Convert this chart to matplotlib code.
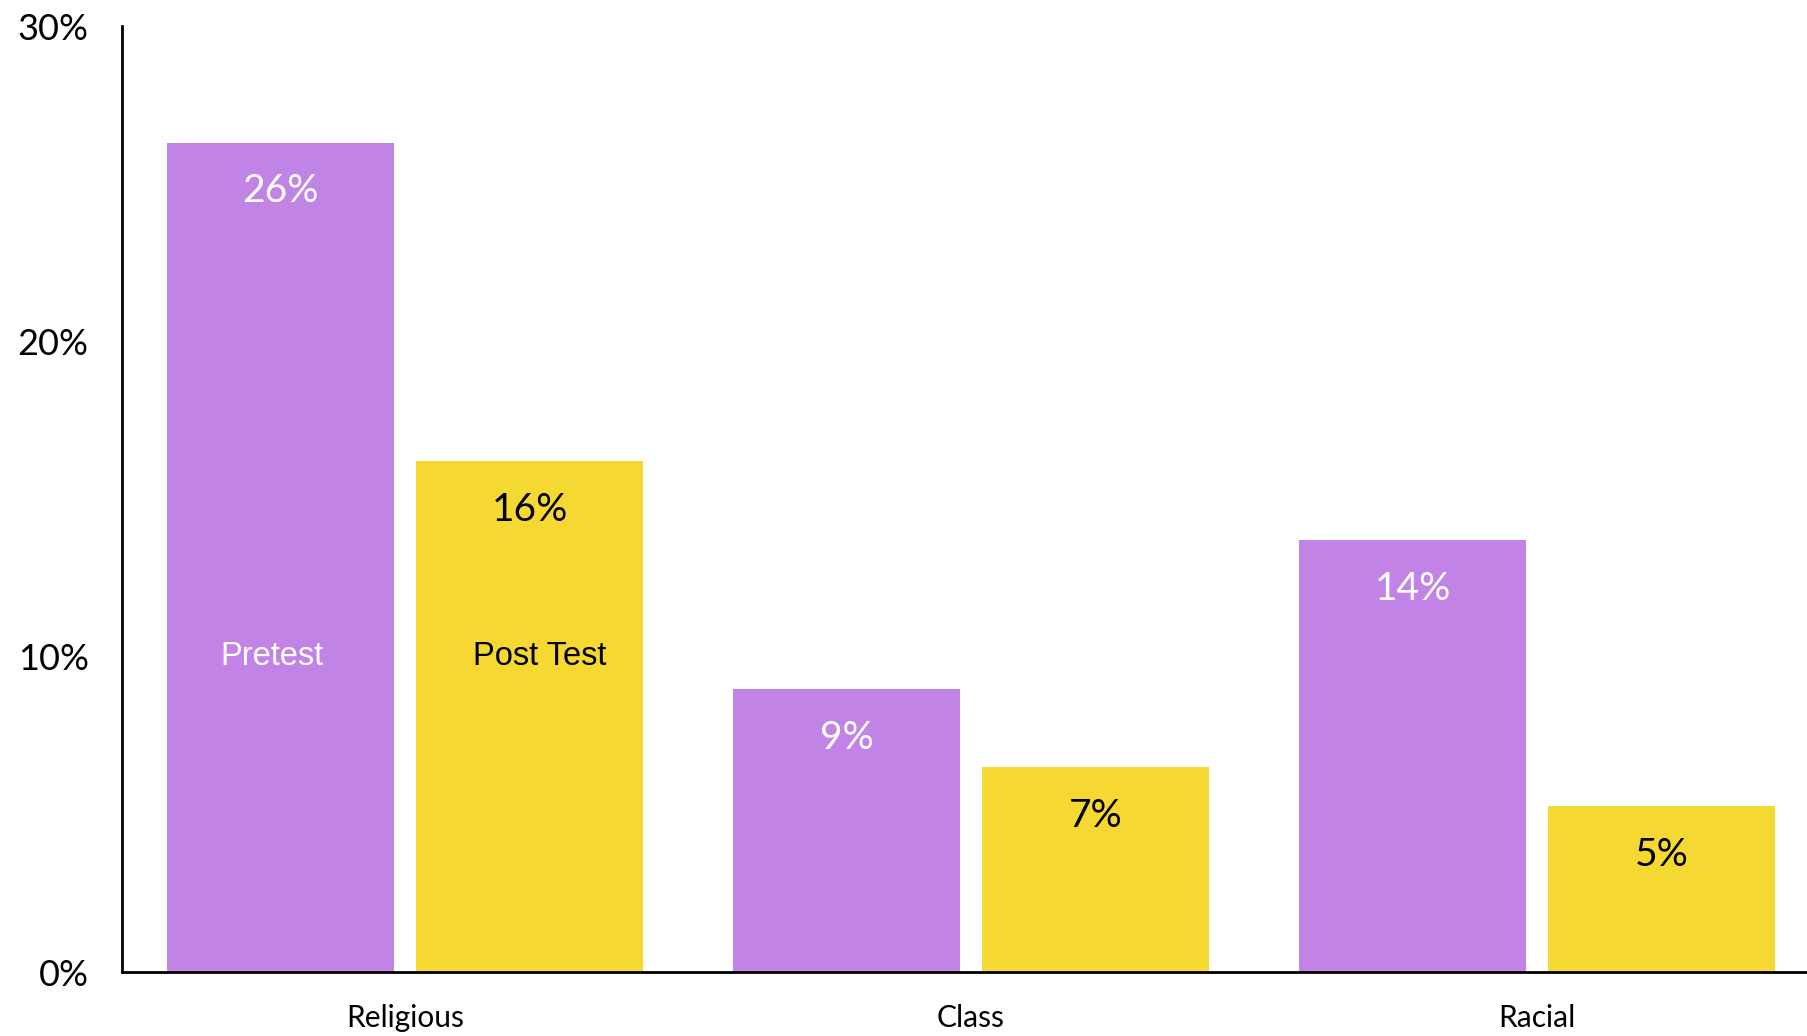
import matplotlib
matplotlib.use("Agg")
import matplotlib.pyplot as plt
import numpy as np

categories = ["Religious", "Class", "Racial"]
pretest = [26.3, 8.97, 13.7]
posttest = [16.2, 6.5, 5.26]
pre_labels = ["26%", "9%", "14%"]
post_labels = ["16%", "7%", "5%"]
series_names = ["Pretest", "Post Test"]
yticks = [0, 10, 20, 30]
ytick_labels = ["0%", "10%", "20%", "30%"]

purple = "#C283E6"
yellow = "#F6D832"
font = "Lato"

fig = plt.figure(figsize=(18.07, 10.36), dpi=100)
ax = fig.add_axes([122/1807, 64/1036, 1 - 122/1807, (972-26)/1036])

x = np.arange(len(categories))
w = 0.4
off = 0.22
b1 = ax.bar(x - off, pretest, w, color=purple)
b2 = ax.bar(x + off, posttest, w, color=yellow)

for rect, lab in zip(b1, pre_labels):
    ax.annotate(lab, (rect.get_x() + rect.get_width()/2, rect.get_height()),
                xytext=(0, -35), textcoords="offset points", ha="center", va="center",
                fontsize=28, color="white", family=font)
for rect, lab in zip(b2, post_labels):
    ax.annotate(lab, (rect.get_x() + rect.get_width()/2, rect.get_height()),
                xytext=(0, -35), textcoords="offset points", ha="center", va="center",
                fontsize=28, color="black", family=font)

ax.text(x[0] - off - 0.015, 10, series_names[0], ha="center", va="center",
        fontsize=23.5, color="white", family="Liberation Sans")
ax.text(x[0] + off + 0.018, 10, series_names[1], ha="center", va="center",
        fontsize=23.5, color="black", family="Liberation Sans")

ax.set_xlim(-0.5, 2.477)
ax.set_ylim(0, 30)
ax.set_xticks(x)
ax.set_xticklabels(categories, fontsize=21.5, family=font)
ax.set_yticks(yticks)
ax.set_yticklabels(ytick_labels, fontsize=26, family=font)
ax.tick_params(axis="x", length=0, pad=23)
ax.tick_params(axis="y", length=0, pad=24)
for s in ["top", "right"]:
    ax.spines[s].set_visible(False)
ax.spines["left"].set_linewidth(2)
ax.spines["bottom"].set_linewidth(2)

fig.savefig("out.png", dpi=100)
